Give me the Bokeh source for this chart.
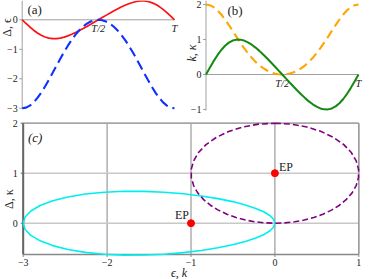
import math
from bokeh.plotting import figure
from bokeh.models import Range1d, Label
from bokeh.core.properties import value
from bokeh.layouts import column, row
from bokeh.embed import file_html
from bokeh.resources import INLINE

# ---------------- data ----------------
# time in units of the period T
t = [0.0, 0.025, 0.05, 0.075, 0.1, 0.125, 0.15, 0.175, 0.2, 0.225, 0.25,
     0.275, 0.3, 0.325, 0.35, 0.375, 0.4, 0.425, 0.45, 0.475, 0.5,
     0.525, 0.55, 0.575, 0.6, 0.625, 0.65, 0.675, 0.7, 0.725, 0.75,
     0.775, 0.8, 0.825, 0.85, 0.875, 0.9, 0.925, 0.95, 0.975, 1.0]

# panel (a): epsilon (blue dashed) and Delta (red)
eps = [-3.0, -2.977, -2.909, -2.798, -2.648, -2.467, -2.260, -2.034, -1.798, -1.558, -1.320,
       -1.092, -0.877, -0.680, -0.504, -0.353, -0.227, -0.128, -0.057, -0.014, 0.0,
       -0.014, -0.057, -0.128, -0.227, -0.353, -0.504, -0.680, -0.877, -1.092, -1.320,
       -1.558, -1.798, -2.034, -2.260, -2.467, -2.648, -2.798, -2.909, -2.977, -3.0]
delta = [0.0, -0.125, -0.244, -0.353, -0.448, -0.525, -0.583, -0.620, -0.638, -0.637, -0.620,
         -0.588, -0.545, -0.492, -0.432, -0.366, -0.296, -0.224, -0.150, -0.075, 0.0,
         0.075, 0.150, 0.224, 0.296, 0.366, 0.432, 0.492, 0.545, 0.588, 0.620,
         0.637, 0.638, 0.620, 0.583, 0.525, 0.448, 0.353, 0.244, 0.125, 0.0]

# panel (b): k (green) and kappa (orange dashed)
k_vals = [0.0, 0.195, 0.382, 0.552, 0.700, 0.821, 0.911, 0.969, 0.997, 0.996, 0.969,
          0.920, 0.852, 0.769, 0.675, 0.572, 0.463, 0.350, 0.235, 0.118, 0.0,
          -0.118, -0.235, -0.350, -0.463, -0.572, -0.675, -0.769, -0.852, -0.920, -0.969,
          -0.996, -0.997, -0.969, -0.911, -0.821, -0.700, -0.552, -0.382, -0.195, 0.0]
kappa = [2.0, 1.981, 1.924, 1.834, 1.714, 1.572, 1.413, 1.246, 1.076, 0.910, 0.753,
         0.607, 0.476, 0.360, 0.262, 0.180, 0.114, 0.063, 0.028, 0.007, 0.0,
         0.007, 0.028, 0.063, 0.114, 0.180, 0.262, 0.360, 0.476, 0.607, 0.753,
         0.910, 1.076, 1.246, 1.413, 1.572, 1.714, 1.834, 1.924, 1.981, 2.0]

# exceptional points
ep_x = [-1.0, 0.0]
ep_y = [0.0, 1.0]
ep_text = ["EP", "EP"]

# tick labels
t_ticks = [0.5, 1.0]
t_labels = ["T/2", "T"]
ya_ticks = [0, -1, -2, -3]
ya_labels = ["0", "\u22121", "\u22122", "\u22123"]
yb_ticks = [2, 1, 0, -1]
yb_labels = ["2", "1", "0", "\u22121"]
xc_ticks = [-3, -2, -1, 0, 1]
xc_labels = ["\u22123", "\u22122", "\u22121", "0", "1"]
yc_ticks = [0, 1, 2]
yc_labels = ["0", "1", "2"]

SERIF = "Liberation Serif"
INK = "#222222"


def make_fig(w, h, x0_px, x_scale, x0_val, y0_px, y_scale, y0_val):
    """Figure whose frame fills the whole canvas; x0_val sits x0_px from the
    left, y0_val sits y0_px from the top."""
    xr = Range1d(x0_val - x0_px / x_scale, x0_val + (w - x0_px) / x_scale)
    yr = Range1d(y0_val - (h - y0_px) / y_scale, y0_val + y0_px / y_scale)
    p = figure(width=w, height=h, x_range=xr, y_range=yr, output_backend="svg",
               toolbar_location=None, min_border=0)
    p.min_border_left = p.min_border_right = p.min_border_top = p.min_border_bottom = 0
    p.axis.visible = False
    p.grid.visible = False
    p.outline_line_color = None
    p.background_fill_color = "white"
    p.border_fill_color = "white"
    return p


def txt(p, x, y, text, size, align="center", baseline="middle", style="normal"):
    p.text(x=x, y=y, text=text, text_font=value(SERIF), text_font_size=value(size),
           text_font_style=style, text_align=align, text_baseline=baseline,
           text_color=INK)


def origin_axes(p, xs, yticks, ylabels, tlab_y, y_bottom, y_top):
    gray = "#a0a0a0"
    p.segment(x0=[0], y0=[y_bottom], x1=[0], y1=[y_top], line_color=gray, line_width=1)
    p.segment(x0=[0], y0=[0], x1=[max(t_ticks)], y1=[0], line_color=gray, line_width=1)
    n = len(yticks)
    p.segment(x0=[0] * n, y0=yticks, x1=[-3 / xs] * n, y1=yticks, line_color=gray, line_width=1)
    txt(p, [-4.5 / xs] * n, yticks, ylabels, "10px", align="right")
    txt(p, t_ticks, [tlab_y] * len(t_ticks), t_labels, "10.5px", style="italic")


# ---------------- panel (a) ----------------
AX, AY = 152.3, 29.5
pa = make_fig(184, 116, 21.7, AX, 0.0, 19.3, AY, 0.0)
origin_axes(pa, AX, ya_ticks, ya_labels, -8.7 / AY, min(ya_ticks) - 0.03, pa.y_range.end)
pa.line(t, delta, line_color="#ff1010", line_width=1.7)
pa.line(t, eps, line_color="#1030ff", line_width=2.1, line_dash="10 5")
pa.add_layout(Label(x=-15.2 / AX, y=-7.7 / AY, text="\u0394, \u03f5", angle=math.pi / 2,
                    text_align="center", text_baseline="middle", text_font=SERIF,
                    text_font_size="12px", text_color=INK))
pa.add_layout(Label(x=5.3 / AX, y=17.5 / AY, text="(a)", text_align="left", text_baseline="top",
                    text_font=SERIF, text_font_size="13px", text_color=INK))

# ---------------- panel (b) ----------------
BX, BY = 152.5, 35.0
pb = make_fig(190, 116, 21.5, BX, 0.0, 74.0, BY, 0.0)
origin_axes(pb, BX, yb_ticks, yb_labels, -9.0 / BY, min(yb_ticks) - 0.03, pb.y_range.end)
pb.line(t, kappa, line_color="#ffa500", line_width=2.1, line_dash="9 5")
pb.line(t, k_vals, line_color="#128a12", line_width=2.0)
pb.add_layout(Label(x=-14.5 / BX, y=21.5 / BY, text="k, \u03ba", angle=math.pi / 2,
                    text_align="center", text_baseline="middle", text_font=SERIF,
                    text_font_style="italic", text_font_size="12px", text_color=INK))
pb.add_layout(Label(x=21.5 / BX, y=71.5 / BY, text="(b)", text_align="left", text_baseline="top",
                    text_font=SERIF, text_font_size="13px", text_color=INK))

# ---------------- panel (c) ----------------
CX, CY = 83.9, 50.0
pc = make_fig(374, 163, 22.7, CX, min(xc_ticks), 6.7, CY, max(yc_ticks))
ybot = -0.626
xl, xr_ = min(xc_ticks), max(xc_ticks)
yt = max(yc_ticks)
# grid
pc.segment(x0=xc_ticks, y0=[ybot] * len(xc_ticks), x1=xc_ticks, y1=[yt] * len(xc_ticks),
           line_color="#9a9a9a", line_width=1.2)
pc.segment(x0=[xl] * len(yc_ticks), y0=yc_ticks, x1=[xr_] * len(yc_ticks), y1=yc_ticks,
           line_color="#c8c8c8", line_width=1.6)
# frame
pc.segment(x0=[xl, xl], y0=[yt, ybot], x1=[xr_, xr_], y1=[yt, ybot],
           line_color=["#9a9a9a", "#888888"], line_width=1.3)
pc.segment(x0=[xr_], y0=[ybot], x1=[xr_], y1=[yt], line_color="#9a9a9a", line_width=1.3)
pc.segment(x0=[xl], y0=[ybot], x1=[xl], y1=[yt], line_color="#666666", line_width=2)
# ticks
pc.segment(x0=xc_ticks, y0=[ybot] * len(xc_ticks), x1=xc_ticks,
           y1=[ybot - 2.5 / CY] * len(xc_ticks), line_color="#888888", line_width=1)
pc.segment(x0=[xl] * len(yc_ticks), y0=yc_ticks, x1=[xl - 2.5 / CX] * len(yc_ticks),
           y1=yc_ticks, line_color="#666666", line_width=1)
txt(pc, xc_ticks, [ybot - 4.0 / CY] * len(xc_ticks), xc_labels, "10px", baseline="top")
txt(pc, [xl - 5.5 / CX] * len(yc_ticks), yc_ticks, yc_labels, "10px", align="right")

# curves
pc.line(eps, delta, line_color="#00eeee", line_width=1.6)
pc.line(k_vals, kappa, line_color="#800080", line_width=1.6, line_dash="6 3")
pc.scatter(ep_x, ep_y, size=7, color="#ff0000")
pc.add_layout(Label(x=ep_x[1] + 4 / CX, y=ep_y[1] + 6 / CY, text=ep_text[1], text_align="left",
                    text_baseline="middle", text_font=SERIF, text_font_size="12px",
                    text_color=INK))
pc.add_layout(Label(x=ep_x[0] - 2 / CX, y=ep_y[0] + 8 / CY, text=ep_text[0], text_align="right",
                    text_baseline="middle", text_font=SERIF, text_font_size="12px",
                    text_color=INK))
# axis labels and panel tag
pc.add_layout(Label(x=xl + 157.3 / CX, y=ybot - 18 / CY, text="\u03f5,  k", text_align="center",
                    text_baseline="middle", text_font=SERIF, text_font_style="italic",
                    text_font_size="12px", text_color=INK))
pc.add_layout(Label(x=xl - 14.7 / CX, y=yt - 74.3 / CY, text="\u0394,  \u03ba", angle=math.pi / 2,
                    text_align="center", text_baseline="middle", text_font=SERIF,
                    text_font_size="12px", text_color=INK))
pc.add_layout(Label(x=xl + 4.8 / CX, y=yt - 6.3 / CY, text="(c)", text_align="left",
                    text_baseline="top", text_font=SERIF, text_font_style="italic",
                    text_font_size="13px", text_color=INK))

layout = column(row(pa, pb), pc)
open("out.html", "w").write(file_html(layout, INLINE))
